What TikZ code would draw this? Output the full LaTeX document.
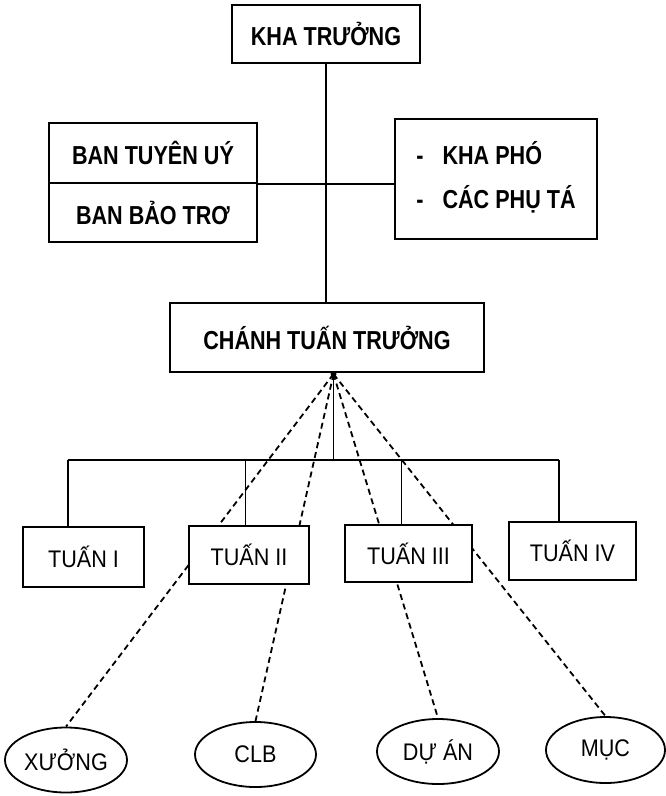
\documentclass[tikz,border=0pt]{standalone}
\usepackage{fontspec}
\setmainfont{Liberation Sans}[FakeStretch=0.9]
\newfontfamily\bfam{Liberation Sans}[FakeStretch=0.83]
\usetikzlibrary{shapes.geometric,backgrounds}
\begin{document}
\begin{tikzpicture}[x=1pt,y=-1pt,
  box/.style={draw, line width=1.8pt, fill=white, inner sep=0pt, font=\bfam\fontsize{26}{30}\selectfont\bfseries},
  wk/.style={draw, line width=1.8pt, fill=white, inner sep=0pt, font=\fontsize{24}{28}\selectfont},
  oval/.style={draw, ellipse, line width=1.8pt, fill=white, inner sep=0pt, font=\fontsize{24}{28}\selectfont},
  link/.style={line width=1.8pt},
  dlink/.style={line width=1.8pt, dash pattern=on 6pt off 4pt}]
\useasboundingbox (0,0) rectangle (666,796);
% top
\node[box, minimum width=188pt, minimum height=58pt] (kha) at (326,34) {KHA TRƯỞNG};
\node[box, minimum width=208pt, minimum height=60pt] (ban1) at (153,153) {BAN TUYÊN UÝ};
\node[box, minimum width=208pt, minimum height=59pt] (ban2) at (153,212.5) {BAN BẢO TRƠ};
\node[box, minimum width=202pt, minimum height=120pt] (phu) at (496,179)
  {\begin{tabular}{@{}l@{\hspace{19pt}}l@{}}-&KHA PHÓ\\[12pt]-&CÁC PHỤ TÁ\end{tabular}};
\node[box, minimum width=314pt, minimum height=69pt] (chanh) at (327,337.5) {CHÁNH TUẤN TRƯỞNG};
\node[circle, fill, inner sep=0pt, minimum size=6pt] (hub) at (333.5,374) {};
% weeks
\node[wk, minimum width=121pt, minimum height=60pt] (t1) at (83.5,557) {TUẤN I};
\node[wk, minimum width=120pt, minimum height=58pt] (t2) at (249,555) {TUẤN II};
\node[wk, minimum width=127pt, minimum height=57pt] (t3) at (408.5,553.5) {TUẤN III};
\node[wk, minimum width=127pt, minimum height=58pt] (t4) at (572.5,551) {TUẤN IV};
% ovals
\node[oval, minimum width=122pt, minimum height=65pt] (o1) at (66,760) {XƯỞNG};
\node[oval, minimum width=121pt, minimum height=65pt] (o2) at (255.5,754.5) {CLB};
\node[oval, minimum width=122pt, minimum height=65pt] (o3) at (438,751.5) {DỰ ÁN};
\node[oval, minimum width=119pt, minimum height=66pt] (o4) at (605.5,750) {MỤC};
% bus coordinates
\coordinate (bus) at (333.5,460);
\coordinate (b1) at (68,460);
\coordinate (b2) at (245.5,460);
\coordinate (b3) at (401.5,460);
\coordinate (b4) at (558.6,460);
\begin{scope}[on background layer]
  \draw[link] (kha.south) -- (kha.south |- chanh.north);
  \draw[link] (ban1.south east) -- (ban1.south east -| phu.west);
  \draw[link] (hub.center) -- (bus);
  \draw[link] (b1) -- (b4);
  \draw[link] (b1) -- (b1 |- t1.north);
  \draw[link] (b2) -- (b2 |- t2.north);
  \draw[link] (b3) -- (b3 |- t3.north);
  \draw[link] (b4) -- (b4 |- t4.north);
  \draw[dlink] (hub.center) -- (o1.north);
  \draw[dlink] (hub.center) -- (o2.north);
  \draw[dlink] (hub.center) -- (o3.north);
  \draw[dlink] (hub.center) -- (o4.north);
\end{scope}
\end{tikzpicture}
\end{document}
